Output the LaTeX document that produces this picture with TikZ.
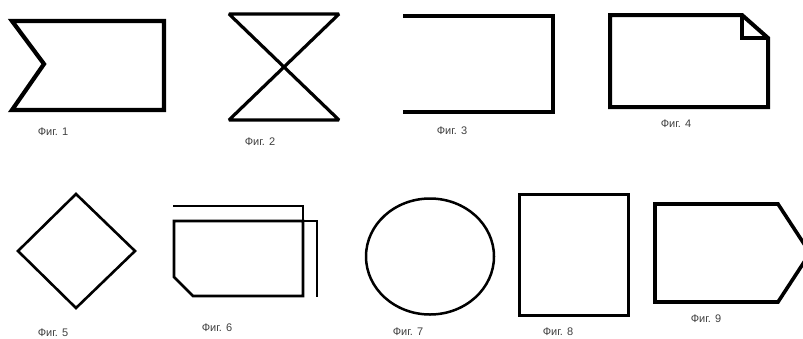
\documentclass[tikz,border=0pt]{standalone}
\usepackage{fontspec}
\setmainfont{Liberation Sans}
\begin{document}
\begin{tikzpicture}[x=1pt,y=-1pt,
  shp/.style={draw=black,line join=miter},
  lbl/.style={font=\fontsize{11}{13}\selectfont,text=black!75,inner sep=0pt}]
\useasboundingbox (0,0) rectangle (803,338);
\fill[white] (0,0) rectangle (803,338);
% Fig 1
\draw[shp,line width=4.2] (44,64) -- (12,21) -- (164,21) -- (164,110) -- (12,110) -- cycle;
\node[lbl] (l1) at (53,132) {Фиг. 1};
% Fig 2
\draw[shp,line width=3.2,line join=bevel] (229,14) -- (339,14) -- (229,120) -- (339,120) -- cycle;
\node[lbl] (l2) at (260,142) {Фиг. 2};
% Fig 3
\draw[shp,line width=4.5] (403,16) -- (553,16) -- (553,112) -- (403,112);
\node[lbl] (l3) at (452,131) {Фиг. 3};
% Fig 4
\draw[shp,line width=4] (610,15) -- (742,15) -- (768,38) -- (768,107) -- (610,107) -- cycle;
\draw[shp,line width=3.5] (742,15) -- (742,38) -- (768,38);
\node[lbl] (l4) at (676,124) {Фиг. 4};
% Fig 5
\draw[shp,line width=2.6] (76,194) -- (135,251) -- (76,308) -- (18,251) -- cycle;
\node[lbl] (l5) at (53,333) {Фиг. 5};
% Fig 6
\draw[shp,line width=2.4] (173,206) -- (303,206) -- (303,221);
\draw[shp,line width=2.8] (174,221) -- (303,221) -- (303,296) -- (193,296) -- (174,277) -- cycle;
\draw[shp,line width=2.6] (303,221) -- (317,221) -- (317,297);
\node[lbl] (l6) at (217,328) {Фиг. 6};
% Fig 7
\draw[shp,line width=2.5] (430,256.5) ellipse [x radius=64, y radius=58];
\node[lbl] (l7) at (408,332) {Фиг. 7};
% Fig 8
\draw[shp,line width=3] (519,194) rectangle (628,315);
\node[lbl] (l8) at (558,332) {Фиг. 8};
% Fig 9
\begin{scope}
\clip (640,180) rectangle (803,320);
\draw[shp,line width=3.6] (655,204) -- (778,204) -- (810,253) -- (778,302) -- (655,302) -- cycle;
\end{scope}
\node[lbl] (l9) at (706,319) {Фиг. 9};
\end{tikzpicture}
\end{document}
